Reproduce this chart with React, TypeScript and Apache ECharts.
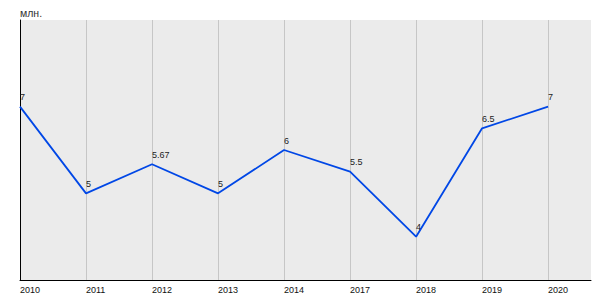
import React, { useEffect, useRef } from "react";
import * as echarts from "echarts";

const years = ["2010", "2011", "2012", "2013", "2014", "2017", "2018", "2019", "2020"];
const values = [7, 5, 5.67, 5, 6, 5.5, 4, 6.5, 7];
const unitLabel = "млн.";

export default function App() {
  const ref = useRef<HTMLDivElement>(null);
  useEffect(() => {
    if (!ref.current) return;
    const chart = echarts.init(ref.current, undefined, { renderer: "svg" });
    chart.setOption({
      animation: false,
      title: {
        text: unitLabel,
        left: 20,
        top: 7,
        padding: 0,
        textStyle: { fontFamily: "Liberation Sans", fontSize: 10.5, fontWeight: "normal", color: "#333" },
      },
      grid: {
        left: 20,
        right: 9,
        top: 20,
        bottom: 20,
        show: true,
        backgroundColor: "#ebebeb",
        borderWidth: 0,
      },
      xAxis: {
        type: "value",
        min: 0,
        max: 8.65,
        interval: 1,
        axisLine: { show: true, onZero: false, lineStyle: { color: "#000", width: 1 } },
        axisTick: { show: false },
        splitLine: { show: true, showMinLine: false, showMaxLine: false, lineStyle: { color: "#c6c6c6", width: 1 } },
        axisLabel: {
          formatter: (v: number) => (Number.isInteger(v) && years[v] ? years[v] : ""),
          align: "left",
          margin: 5,
          color: "#111",
          fontFamily: "Liberation Sans",
          fontSize: 9,
          showMaxLabel: false,
        },
      },
      yAxis: {
        type: "value",
        min: 3,
        max: 9,
        axisLine: { show: true, lineStyle: { color: "#000", width: 1 } },
        axisTick: { show: false },
        axisLabel: { show: false },
        splitLine: { show: false },
      },
      series: [
        {
          type: "line",
          data: values.map((v, i) => [i, v]),
          symbol: "circle",
          symbolSize: 2,
          showSymbol: true,
          showAllSymbol: true,
          itemStyle: { color: "rgba(0,0,0,0)", borderWidth: 0 },
          lineStyle: { color: "#0047e6", width: 1.8 },
          label: {
            show: true,
            position: "top",
            align: "left",
            distance: 4,
            color: "#222",
            fontFamily: "Liberation Sans",
            fontSize: 9,
            formatter: (p: any) => String(p.value[1]),
          },
        },
      ],
    });
    return () => chart.dispose();
  }, []);
  return <div ref={ref} style={{ width: 600, height: 300, position: "absolute", left: 0, top: 0 }} />;
}
